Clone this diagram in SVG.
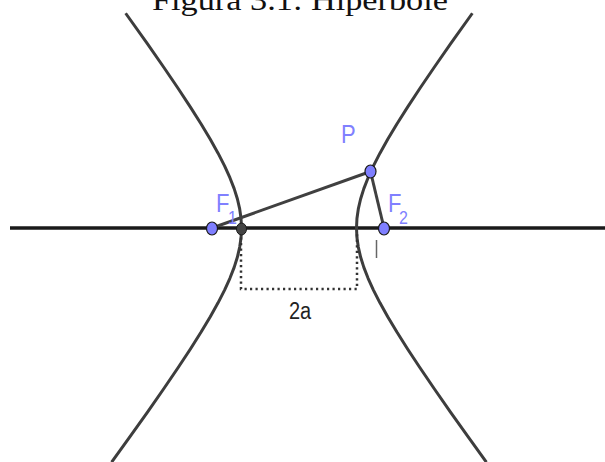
<svg xmlns="http://www.w3.org/2000/svg" width="605" height="462" viewBox="0 0 605 462">
<style>
.curve{fill:none;stroke:#3d3d3d;stroke-width:3;stroke-linejoin:round;stroke-linecap:butt}
.seg{stroke:#404040;stroke-width:3;fill:none}
.pt{fill:#7f7fff;stroke:#1a1a1a;stroke-width:1.2}
.lbl{font-family:"Liberation Sans",Arial,sans-serif;fill:#8080ff}
.title{font-family:"Liberation Serif","Times New Roman",serif;font-size:30px;fill:#111}
</style>
<rect width="605" height="462" fill="#ffffff"/>
<text class="title" x="152" y="10" textLength="296" lengthAdjust="spacingAndGlyphs">Figura 3.1: Hiperbole</text>
<g id="connectors">
<line x1="10" y1="228" x2="605" y2="228" stroke="#1a1a1a" stroke-width="3.5"/>
<polyline class="curve" points="125.64,13.25 147.33,43.72 163.74,67.24 178.02,88.24 190.42,107.06 201.11,123.98 210.27,139.27 218.05,153.18 224.56,165.92 229.90,177.68 234.16,188.66 237.41,199.02 239.69,208.93 241.05,218.54 241.5,228 241.05,237.46 239.69,247.07 237.41,256.98 234.16,267.34 229.90,278.32 224.56,290.08 218.05,302.82 210.27,316.73 201.11,332.02 190.42,348.94 178.02,367.76 163.74,388.76 147.33,412.28 128.56,438.68 111.62,462.16"/>
<polyline class="curve" points="472.36,13.25 450.67,43.72 434.26,67.24 419.98,88.24 407.58,107.06 396.89,123.98 387.73,139.27 379.95,153.18 373.44,165.92 368.10,177.68 363.84,188.66 360.59,199.02 358.31,208.93 356.95,218.54 356.5,228 356.95,237.46 358.31,247.07 360.59,256.98 363.84,267.34 368.10,278.32 373.44,290.08 379.95,302.82 387.73,316.73 396.89,332.02 407.58,348.94 419.98,367.76 434.26,388.76 450.67,412.28 469.44,438.68 486.38,462.16"/>
<line class="seg" x1="370.5" y1="171.5" x2="212" y2="228"/>
<line class="seg" x1="370.5" y1="171.5" x2="384" y2="228"/>
<path d="M241,232 V289 H357 V232" fill="none" stroke="#333" stroke-width="2.5" stroke-dasharray="2.2,3.3"/>
<line x1="376.5" y1="240" x2="376.5" y2="258" stroke="#666" stroke-width="1.5"/>
</g>
<g id="vertex">
<ellipse cx="241.5" cy="229" rx="5" ry="6" fill="#444" stroke="#1a1a1a" stroke-width="1"/>
</g>
<g id="F1">
<ellipse class="pt" cx="212" cy="228.5" rx="5.5" ry="6.5"/>
<g transform="translate(216,212) scale(1,1.15)"><text class="lbl" font-size="22">F</text></g>
<g transform="translate(228,224) scale(1,1.15)"><text class="lbl" font-size="16">1</text></g>
</g>
<g id="F2">
<ellipse class="pt" cx="384" cy="228.5" rx="5.5" ry="6.5"/>
<g transform="translate(388,212) scale(1,1.15)"><text class="lbl" font-size="22">F</text></g>
<g transform="translate(399,224) scale(1,1.15)"><text class="lbl" font-size="16">2</text></g>
</g>
<g id="P">
<ellipse class="pt" cx="370.5" cy="171.5" rx="5.5" ry="6.5"/>
<g transform="translate(341,143) scale(1,1.15)"><text class="lbl" font-size="22">P</text></g>
</g>
<g id="label2a">
<g transform="translate(289,319) scale(1,1.15)"><text font-family="Liberation Sans,Arial,sans-serif" font-size="20" fill="#222">2a</text></g>
</g>
</svg>
